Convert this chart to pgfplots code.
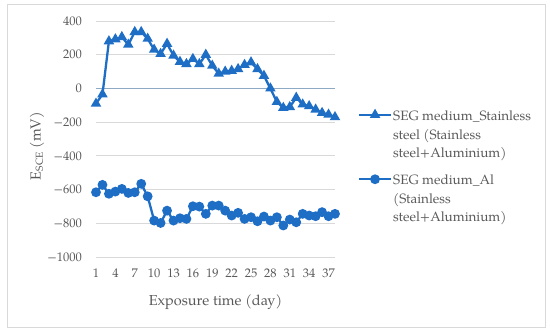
\documentclass[border=0pt]{standalone}
\usepackage{pgfplots}
\pgfplotsset{compat=1.18}
\usepackage{fontspec}
\setmainfont{TeX Gyre Pagella}
\definecolor{ser}{HTML}{1F6EC6}
\definecolor{gridc}{HTML}{D9D9D9}
\definecolor{zeroc}{HTML}{8EA9C4}
\definecolor{txt}{HTML}{595959}
\begin{document}
\begin{tikzpicture}[x=1pt,y=1pt]
\useasboundingbox (0,0) rectangle (550,333);
\draw[gridc, line width=1pt] (7,6) rectangle (545,328);
\begin{axis}[
 at={(96pt,76pt)}, anchor=south west,
 scale only axis, width=239pt, height=236pt,
 xmin=1, xmax=38, ymin=-1000, ymax=400,
 xtick={1,4,...,37}, ytick={-1000,-800,...,400},
 yticklabels={−1000,−800,−600,−400,−200,0,200,400},
 axis line style={draw=none}, tick style={draw=none},
 ymajorgrids, grid style={gridc, line width=0.9pt},
 extra y ticks={0}, extra y tick labels={},
 extra y tick style={grid style={zeroc, line width=1.1pt}},
 ticklabel style={font=\fontsize{12.5}{15}\selectfont, text=txt},
 /pgf/number format/assume math mode=true,
 yticklabel style={anchor=east, inner xsep=0pt, xshift=-14pt},
 xticklabel style={anchor=north, inner ysep=0pt, yshift=-12pt},
 xlabel={Exposure time (day)},
 ylabel={E\textsubscript{SCE} (mV)},
 label style={font=\fontsize{14.5}{17}\selectfont, text=txt},
 xlabel style={at={(axis description cs:0.5,-0.19)}, anchor=center},
 ylabel style={at={(axis description cs:-0.247,0.47)}, anchor=center},
 legend cell align=left,
 legend style={at={(axis description cs:1.095,0.634)}, anchor=north west,
   draw=none, fill=none, font=\fontsize{13.5}{18.5}\selectfont\color{txt},
   row sep=50pt, inner sep=0pt, nodes={inner xsep=1pt, inner ysep=0pt}},
 legend image code/.code={\draw[mark repeat=2,mark phase=2] plot coordinates {(0pt,0pt)(16pt,0pt)(32pt,0pt)};},
]
\addplot[ser, line width=2.3pt, mark=triangle*, mark size=3.8pt, mark options={solid}] table[row sep=\\] {
x y\\
1 -90\\ 2 -35\\ 3 280\\ 4 292\\ 5 305\\ 6 260\\ 7 335\\ 8 335\\ 9 295\\ 10 230\\
11 205\\ 12 265\\ 13 195\\ 14 158\\ 15 145\\ 16 175\\ 17 145\\ 18 200\\ 19 135\\ 20 88\\
21 100\\ 22 105\\ 23 115\\ 24 140\\ 25 155\\ 26 115\\ 27 75\\ 28 0\\ 29 -80\\ 30 -115\\
31 -110\\ 32 -55\\ 33 -95\\ 34 -105\\ 35 -125\\ 36 -145\\ 37 -155\\ 38 -170\\
};
\addlegendentry{\begin{tabular}[t]{@{}l@{}}SEG medium\_Stainless\\steel (Stainless\\steel+Aluminium)\end{tabular}}
\addplot[ser, line width=2.3pt, mark=*, mark size=3.7pt, mark options={solid}] table[row sep=\\] {
x y\\
1 -616\\ 2 -572\\ 3 -625\\ 4 -612\\ 5 -596\\ 6 -620\\ 7 -616\\ 8 -566\\ 9 -640\\ 10 -784\\
11 -798\\ 12 -725\\ 13 -784\\ 14 -770\\ 15 -774\\ 16 -699\\ 17 -701\\ 18 -744\\ 19 -695\\ 20 -695\\
21 -725\\ 22 -754\\ 23 -738\\ 24 -774\\ 25 -764\\ 26 -788\\ 27 -760\\ 28 -784\\ 29 -764\\ 30 -813\\
31 -778\\ 32 -794\\ 33 -744\\ 34 -754\\ 35 -758\\ 36 -734\\ 37 -758\\ 38 -744\\
};
\addlegendentry{\begin{tabular}[t]{@{}l@{}}SEG medium\_Al\\(Stainless\\steel+Aluminium)\end{tabular}}
\end{axis}
\end{tikzpicture}
\end{document}
